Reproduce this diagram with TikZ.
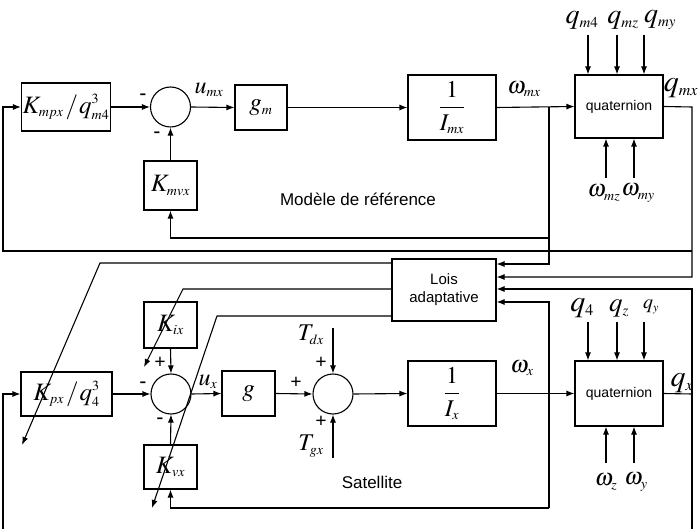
\documentclass[tikz,border=0pt]{standalone}
\usepackage{mathptmx}
\usepackage{fontspec}
\setmainfont{Liberation Serif}
\setsansfont{Liberation Sans}
\DeclareMathSizes{20}{20}{12}{9}
\DeclareMathSizes{24}{24}{14}{10}
\DeclareMathSizes{25}{25}{14}{10}
\DeclareMathSizes{27}{27}{15}{11}
\DeclareMathSizes{28}{28}{15}{11}
\DeclareMathSizes{30}{30}{16}{12}
\usetikzlibrary{arrows.meta}
\begin{document}
\begin{tikzpicture}[x=1pt,y=-1pt, line width=1.1pt, >={Latex[length=8pt,width=6pt]},
 blk/.style={draw, inner sep=0pt, font=\fontsize{25}{29}\selectfont},
 sumc/.style={draw, circle, minimum size=40pt, inner sep=0pt},
 lbl/.style={font=\fontsize{24}{28}\selectfont, inner sep=0pt},
 qlbl/.style={font=\fontsize{30}{34}\selectfont, inner sep=0pt},
 qtop/.style={font=\fontsize{28}{32}\selectfont, inner sep=0pt},
 sgn/.style={font=\bfseries\fontsize{20}{22}\selectfont, inner sep=0pt},
 txt/.style={font=\sffamily\fontsize{17}{20}\selectfont, inner sep=0pt},
 qtxt/.style={font=\sffamily\fontsize{14}{17}\selectfont, align=center}]
\useasboundingbox (0,0) rectangle (699,529);
% ---------- reference model ----------
\node[blk, minimum width=89pt, minimum height=48pt] (kmpx) at (66,107) {$K_{mpx}\hspace{2pt}/\hspace{1pt}q_{m4}^3$};
\node[sumc] (s1) at (170.5,107) {};
\node[blk, minimum width=52pt, minimum height=45pt] (gm) at (261,107.5) {$g_m$};
\node[blk, minimum width=53pt, minimum height=49pt] (kmvx) at (170.5,185.5) {$K_{mvx}$};
\node[blk, lbl, draw, minimum width=88pt, minimum height=65pt] (imx) at (452,107.5) {$\displaystyle\frac{1}{I_{mx}}$};
\node[blk, qtxt, minimum width=88pt, minimum height=63pt] (qm) at (619,106.5) {quaternion};
\node[blk, qtxt, minimum width=104pt, minimum height=62pt, font=\sffamily\fontsize{15}{18}\selectfont] (lois) at (444,290) {Lois\\adaptative};
% ---------- satellite ----------
\node[blk, minimum width=91pt, minimum height=44pt] (kpx) at (66.5,394) {$K_{px}\hspace{2pt}/\hspace{1pt}q_4^3$};
\node[sumc] (s2) at (171,394) {};
\node[blk, minimum width=53pt, minimum height=46pt] (kix) at (170.5,325) {$K_{ix}$};
\node[blk, minimum width=53pt, minimum height=44pt] (kvx) at (170.5,467) {$K_{vx}$};
\node[blk, minimum width=53pt, minimum height=45pt] (g) at (248.5,393.5) {$g$};
\node[sumc] (s3) at (333,394) {};
\node[blk, lbl, draw, minimum width=88pt, minimum height=65pt] (ix) at (452,393.5) {$\displaystyle\frac{1}{I_{x}}$};
\node[blk, qtxt, minimum width=88pt, minimum height=65pt] (qs) at (619,393.5) {quaternion};
% ---------- labels ----------
\node[lbl] (lumx) at (209,90) {$u_{mx}$};
\node[lbl] (lwmx) at (524,89) {$\omega_{mx}$};
\node[qlbl] (lqmx) at (681,88) {$q_{mx}$};
\node[qtop] (lqm4) at (582,20) {$q_{m4}$};
\node[qtop] (lqmz) at (623,20) {$q_{mz}$};
\node[qtop] (lqmy) at (660,20) {$q_{my}$};
\node[lbl] (lwmz) at (604,193) {$\omega_{mz}$};
\node[lbl] (lwmy) at (638,193) {$\omega_{my}$};
\node[sgn] (m1) at (143,97) {-};
\node[sgn] (m2) at (157,135) {-};
\node[txt] (tmod) at (358,199) {Modèle de référence};
\node[lbl] (lux) at (208,382) {$u_{x}$};
\node[lbl] (ltdx) at (311,335) {$T_{dx}$};
\node[lbl] (ltgx) at (311,446) {$T_{gx}$};
\node[lbl] (lwx) at (522,368) {$\omega_{x}$};
\node[qlbl] (lq4) at (582,308) {$q_{4}$};
\node[font=\fontsize{27}{30}\selectfont, inner sep=0pt] (lqz) at (619,308) {$q_{z}$};
\node[font=\fontsize{20}{24}\selectfont, inner sep=0pt] (lqy) at (651,307) {$q_{y}$};
\node[lbl] (lwz) at (606,482) {$\omega_{z}$};
\node[lbl] (lwy) at (636,482) {$\omega_{y}$};
\node[qlbl] (lqx) at (682,383) {$q_{x}$};
\node[sgn] (m3) at (143,385) {-};
\node[sgn] (p1) at (160,363) {+};
\node[sgn] (m4) at (160,421) {-};
\node[sgn] (p2) at (296,383) {+};
\node[sgn] (p3) at (321,363) {+};
\node[sgn] (p4) at (321,422) {+};
\node[txt] (tsat) at (372,482) {Satellite};
% ---------- connectors: reference model ----------
\draw[->] (kmpx.east) -- (s1.west);
\draw[->] (s1.east) -- (gm.west);
\draw[->] (gm.east) -- (imx.west);
\draw[->] (imx.east) -- (qm.west);
\draw[->] (kmvx.north) -- (s1.south);
\draw[->] (549,107) -- (549,264) -- (lois.east |- 0,264);
\draw[->] (549,238) -- (kmvx.south |- 0,238) -- (kmvx.south);
\draw[->] (qm.east) -- (692,107) -- (692,277) -- (lois.east |- 0,277);
\draw[->] (692,251) -- (3,251) -- (3,107) -- (kmpx.west);
\foreach \xx in {588,617,644} \draw[->] (\xx,35) -- (qm.north -| \xx,0);
\foreach \xx in {606,634} \draw[->] (\xx,178) -- (qm.south -| \xx,0);
% ---------- connectors: adaptive laws ----------
\draw[->] (lois.west |- 0,263) -- (100,263) -- (22,445);
\draw[->] (lois.west |- 0,289) -- (183,289) -- (144,367);
\draw[->] (lois.west |- 0,316) -- (217,316) -- (152,508);
% ---------- connectors: satellite ----------
\draw[->] (3,529) -- (3,394) -- (kpx.west);
\draw[->] (kpx.east) -- (s2.west);
\draw[->] (kix.south) -- (s2.north);
\draw[->] (kvx.north) -- (s2.south);
\draw[->] (s2.east) -- (g.west);
\draw[->] (g.east) -- (s3.west);
\draw[->] (333,328) -- (s3.north);
\draw[->] (333,458) -- (s3.south);
\draw[->] (s3.east) -- (ix.west);
\draw[->] (ix.east) -- (qs.west);
\draw (qs.east) -- (692,394);
\draw[->] (692,529) -- (692,289) -- (lois.east |- 0,289);
\draw[->] (549,508) -- (549,302) -- (lois.east |- 0,302);
\draw[->] (549,508) -- (kvx.south |- 0,508) -- (kvx.south);
\foreach \xx in {588,617,644} \draw[->] (\xx,322) -- (qs.north -| \xx,0);
\foreach \xx in {606,634} \draw[->] (\xx,463) -- (qs.south -| \xx,0);
\end{tikzpicture}
\end{document}
